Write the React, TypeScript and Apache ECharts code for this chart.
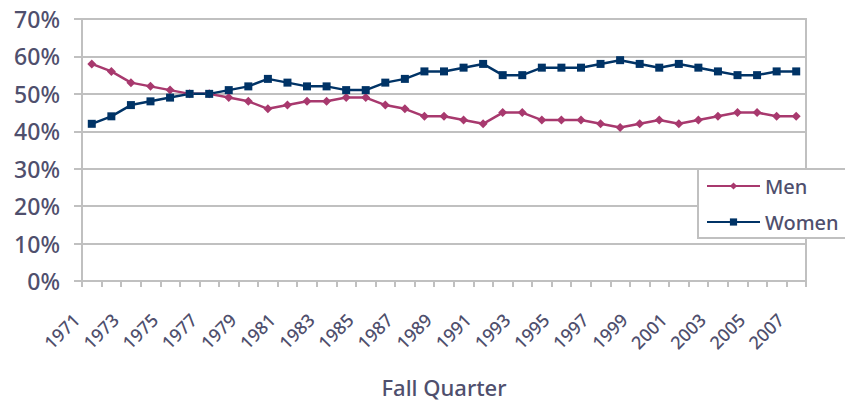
import React, { useEffect, useRef } from "react";
import * as echarts from "echarts";

const years = [
  "1971","1972","1973","1974","1975","1976","1977","1978","1979","1980",
  "1981","1982","1983","1984","1985","1986","1987","1988","1989","1990",
  "1991","1992","1993","1994","1995","1996","1997","1998","1999","2000",
  "2001","2002","2003","2004","2005","2006","2007",
];

const women = [
  42, 44, 47, 48, 49, 50, 50, 51, 52, 54,
  53, 52, 52, 51, 51, 53, 54, 56, 56, 57,
  58, 55, 55, 57, 57, 57, 58, 59, 58, 57,
  58, 57, 56, 55, 55, 56, 56,
];

const men = [
  58, 56, 53, 52, 51, 50, 50, 49, 48, 46,
  47, 48, 48, 49, 49, 47, 46, 44, 44, 43,
  42, 45, 45, 43, 43, 43, 42, 41, 42, 43,
  42, 43, 44, 45, 45, 44, 44,
];

const TEXT = "#4f4f6d";
const GRID = "#c0c0c0";
const FONT = "'Noto Sans', 'Liberation Sans', Arial, sans-serif";
const W = 500;

export default function App() {
  const ref = useRef<HTMLDivElement>(null);
  useEffect(() => {
    if (!ref.current) return;
    const chart = echarts.init(ref.current, null, { renderer: "svg" });
    chart.setOption({
      animation: false,
      backgroundColor: "#ffffff",
      textStyle: { fontFamily: FONT, fontWeight: W },
      grid: {
        left: 82,
        right: 39,
        top: 19,
        bottom: 111,
        show: true,
        borderColor: GRID,
        borderWidth: 2,
        containLabel: false,
      },
      legend: {
        orient: "vertical",
        left: 698,
        top: 169,
        backgroundColor: "#ffffff",
        borderColor: GRID,
        borderWidth: 2,
        borderRadius: 0,
        padding: [6, 30, 5, 8],
        itemWidth: 53,
        itemHeight: 9,
        itemGap: 14,
        textStyle: { color: TEXT, fontSize: 20, lineHeight: 22, fontFamily: FONT, fontWeight: W },
        data: ["Men", "Women"],
      },
      xAxis: {
        type: "category",
        data: years,
        boundaryGap: true,
        name: "Fall Quarter",
        nameLocation: "middle",
        nameGap: 95,
        nameTextStyle: { color: TEXT, fontSize: 22, fontFamily: FONT, fontWeight: W },
        axisLine: { lineStyle: { color: GRID, width: 2 } },
        axisTick: { show: true, interval: 0, length: 6, lineStyle: { color: GRID, width: 2 } },
        axisLabel: {
          interval: 1,
          rotate: 45,
          margin: 20,
          formatter: (v: string) => `{a|${v}}`,
          rich: {
            a: {
              padding: [0, 22, 0, 0],
              color: TEXT,
              fontSize: 18,
              fontFamily: FONT,
              fontWeight: W,
            },
          },
          color: TEXT,
          fontSize: 18,
          fontFamily: FONT,
          fontWeight: W,
        },
        splitLine: { show: false },
      },
      yAxis: {
        type: "value",
        min: 0,
        max: 70,
        interval: 10,
        axisLine: { show: true, lineStyle: { color: GRID, width: 2 } },
        axisTick: { show: true, length: 8, lineStyle: { color: GRID, width: 2 } },
        axisLabel: {
          formatter: "{value}%",
          color: TEXT,
          fontSize: 23,
          margin: 22,
          fontFamily: FONT,
          fontWeight: W,
        },
        splitLine: { show: true, lineStyle: { color: GRID, width: 2 } },
      },
      series: [
        {
          name: "Men",
          type: "line",
          data: men,
          symbol: "diamond",
          symbolSize: 9,
          color: "#a8396e",
          lineStyle: { width: 2.5, color: "#a8396e" },
          itemStyle: { color: "#a8396e" },
        },
        {
          name: "Women",
          type: "line",
          data: women,
          symbol: "rect",
          symbolSize: 8,
          color: "#003366",
          lineStyle: { width: 2.5, color: "#003366" },
          itemStyle: { color: "#003366" },
        },
      ],
    });
    return () => chart.dispose();
  }, []);
  return <div ref={ref} style={{ width: 845, height: 403, position: "absolute", left: 0, top: 0 }} />;
}
